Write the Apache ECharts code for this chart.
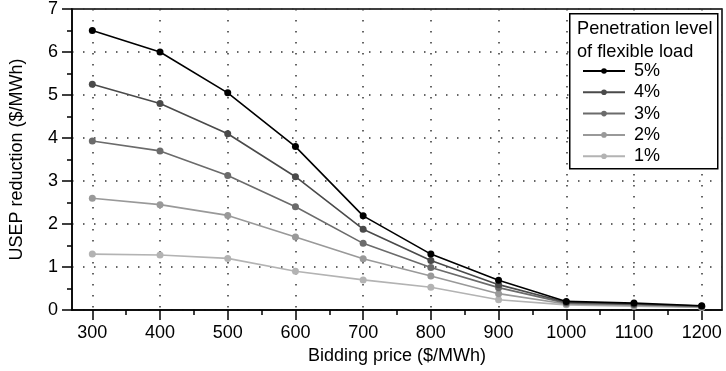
<!DOCTYPE html>
<html>
<head>
<meta charset="utf-8">
<script src="https://cdn.jsdelivr.net/npm/echarts@6/dist/echarts.min.js"></script>
<style>
  html, body { margin: 0; padding: 0; background: #fff; }
  #chart { width: 726px; height: 371px; }
</style>
</head>
<body>
<div id="chart"></div>
<script>
var prices = [300, 400, 500, 600, 700, 800, 900, 1000, 1100, 1200];
var minorPrices = [350, 450, 550, 650, 750, 850, 950, 1050, 1150];
var levels = ["5%", "4%", "3%", "2%", "1%"];
var colors = ["#000000", "#4a4a4a", "#6b6b6b", "#999999", "#b3b3b3"];

var pen5 = [6.5, 6.0, 5.05, 3.8, 2.19, 1.3, 0.69, 0.2, 0.16, 0.1];
var pen4 = [5.25, 4.8, 4.1, 3.1, 1.88, 1.15, 0.59, 0.18, 0.14, 0.09];
var pen3 = [3.93, 3.7, 3.13, 2.4, 1.55, 0.99, 0.52, 0.16, 0.13, 0.08];
var pen2 = [2.6, 2.45, 2.2, 1.7, 1.19, 0.79, 0.38, 0.14, 0.11, 0.07];
var pen1 = [1.3, 1.28, 1.2, 0.9, 0.7, 0.53, 0.24, 0.12, 0.09, 0.06];
var allData = [pen5, pen4, pen3, pen2, pen1];

var font = "Liberation Sans, Arial, Helvetica, sans-serif";

var myChart = echarts.init(document.getElementById("chart"), null, { renderer: "canvas" });

var series = levels.map(function (name, i) {
  return {
    name: name,
    type: "line",
    xAxisIndex: 0,
    data: prices.map(function (p, j) { return [p, allData[i][j]]; }),
    symbol: "circle",
    symbolSize: 7,
    color: colors[i],
    lineStyle: { width: 1.6, color: colors[i] },
    itemStyle: { color: colors[i] },
    z: 10 - i
  };
});

var option = {
  animation: false,
  textStyle: { fontFamily: font },
  grid: {
    left: 70,
    top: 8,
    right: 4,
    bottom: 61,
    show: true,
    borderColor: "#000",
    borderWidth: 1.5,
    containLabel: false
  },
  xAxis: [
    {
      type: "value",
      min: 270,
      max: 1230,
      name: "Bidding price ($/MWh)",
      nameLocation: "middle",
      nameGap: 37,
      nameTextStyle: { fontSize: 18, color: "#000", fontFamily: font },
      axisLine: { show: true, lineStyle: { color: "#000", width: 1.5 } },
      axisTick: { show: true, length: 10, customValues: prices, lineStyle: { color: "#000", width: 1.5 } },
      axisLabel: {
        customValues: prices,
        fontSize: 18,
        color: "#000",
        margin: 14,
        fontFamily: font,
        formatter: function (v) { return String(v); }
      },
      splitLine: { show: true, lineStyle: { type: [1.5, 9.5], color: "#333", width: 1.5 } }
    },
    {
      type: "value",
      min: 270,
      max: 1230,
      position: "bottom",
      axisLine: { show: false },
      axisTick: { show: true, length: 5, customValues: minorPrices, lineStyle: { color: "#000", width: 1.5 } },
      axisLabel: { show: false },
      splitLine: { show: false }
    }
  ],
  yAxis: {
    type: "value",
    min: 0,
    max: 7,
    interval: 1,
    name: "USEP reduction ($/MWh)",
    nameLocation: "middle",
    nameGap: 46,
    nameTextStyle: { fontSize: 18, color: "#000", fontFamily: font },
    axisLine: { show: true, lineStyle: { color: "#000", width: 1.5 } },
    axisTick: { show: true, length: 10, lineStyle: { color: "#000", width: 1.5 } },
    minorTick: { show: true, splitNumber: 2, length: 5, lineStyle: { color: "#000", width: 1.5 } },
    axisLabel: { fontSize: 18, color: "#000", margin: 14, fontFamily: font },
    splitLine: { show: true, lineStyle: { type: [1.5, 9.5], color: "#333", width: 1.5 } }
  },
  legend: {
    orient: "vertical",
    left: 577,
    top: 57,
    z: 100,
    itemWidth: 42,
    itemHeight: 7,
    itemGap: 3.3,
    data: levels,
    textStyle: { fontSize: 18, color: "#000", fontFamily: font, padding: [0, 0, 0, 4] }
  },
  graphic: [
    {
      type: "rect",
      left: 569,
      top: 13,
      shape: { width: 148, height: 155 },
      style: { fill: "#fff", stroke: "#000", lineWidth: 1.5 },
      z: 50
    },
    {
      type: "text",
      left: 577,
      top: 17,
      style: {
        text: "Penetration level\nof flexible load",
        fontSize: 18.2,
        lineHeight: 23,
        fill: "#000",
        fontFamily: font
      },
      z: 51
    }
  ],
  series: series
};

myChart.setOption(option);
</script>
</body>
</html>
